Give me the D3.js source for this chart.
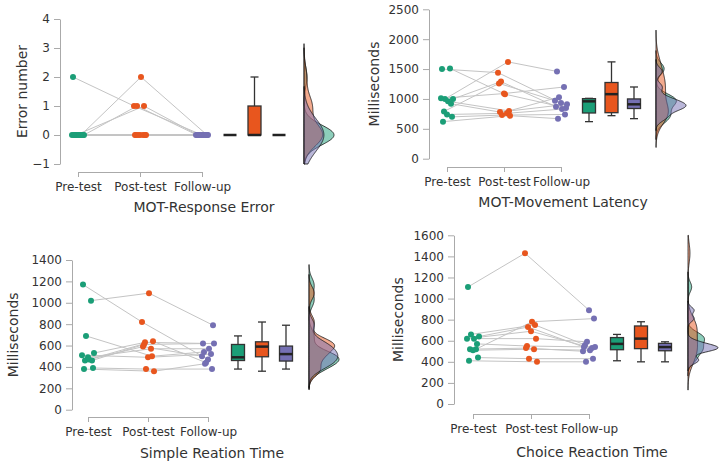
<!DOCTYPE html>
<html>
<head>
<meta charset="utf-8">
<script src="https://cdn.jsdelivr.net/npm/d3@7"></script>
<style>
body { margin: 0; background: #fff; }
text { font-family: "DejaVu Sans", sans-serif; fill: #333; }
</style>
</head>
<body>
<svg id="chart" width="722" height="468"></svg>
<script>
const categories = ["Pre-test", "Post-test", "Follow-up"];
const colors = ["#1b9e77", "#e8561e", "#7570b3"];

// one value per participant, same order in each array
const errorPre = [2, 0, 0, 0, 0, 0, 0, 0, 0, 0, 0];
const errorPost = [1, 2, 1, 1, 0, 0, 0, 0, 0, 0, 0];
const errorFollow = [0, 0, 0, 0, 0, 0, 0, 0, 0, 0, 0];
const errorTicks = [-1, 0, 1, 2, 3, 4];

const latencyPre = [1500, 1510, 1000, 1000, 1010, 960, 920, 790, 740, 700, 620];
const latencyPost = [1440, 1080, 1620, 1290, 1090, 800, 780, 1260, 760, 730, 720];
const latencyFollow = [930, 850, 1460, 870, 1200, 1030, 910, 970, 830, 740, 670];
const latencyTicks = [0, 500, 1000, 1500, 2000, 2500];

const simplePre = [1170, 1020, 690, 530, 510, 470, 460, 460, 490, 390, 380];
const simplePost = [820, 1090, 500, 630, 490, 640, 610, 590, 570, 380, 360];
const simpleFollow = [470, 790, 540, 620, 520, 440, 620, 500, 570, 380, 430];
const simpleTicks = [0, 200, 400, 600, 800, 1000, 1200, 1400];

const choicePre = [1110, 520, 660, 640, 620, 620, 570, 520, 510, 440, 410];
const choicePost = [1430, 780, 750, 730, 690, 620, 550, 530, 520, 430, 400];
const choiceFollow = [890, 810, 560, 540, 530, 590, 540, 500, 510, 430, 400];
const choiceTicks = [0, 200, 400, 600, 800, 1000, 1200, 1400, 1600];

const titles = ["MOT-Response Error", "MOT-Movement Latency", "Simple Reation Time", "Choice Reaction Time"];
const yTitles = ["Error number", "Milliseconds", "Milliseconds", "Milliseconds"];

// horizontal jitter of the dots, in pixels
const jitter = [-5, 3, -2, 6, -6, 1, 4, -3, 0, 5, -4];

const panels = [
    { series: [errorPre, errorPost, errorFollow], ticks: errorTicks, title: titles[0], yTitle: yTitles[0],
      ax: 60, cats: [78, 202], boxes: [230, 279], dens: 304, y: [164, 19], axisY: 172, titleY: 212, titleX: 204, yTitleX: 22 },
    { series: [latencyPre, latencyPost, latencyFollow], ticks: latencyTicks, title: titles[1], yTitle: yTitles[1],
      ax: 429, cats: [447, 561], boxes: [589, 634], dens: 656, y: [158.7, 9.3], axisY: 167, titleY: 207, titleX: 563, yTitleX: 374 },
    { series: [simplePre, simplePost, simpleFollow], ticks: simpleTicks, title: titles[2], yTitle: yTitles[2],
      ax: 72, cats: [88, 208], boxes: [238, 286], dens: 309, y: [409.7, 260], axisY: 417, titleY: 458, titleX: 212, yTitleX: 13 },
    { series: [choicePre, choicePost, choiceFollow], ticks: choiceTicks, title: titles[3], yTitle: yTitles[3],
      ax: 454, cats: [473, 589], boxes: [617, 665], dens: 688, y: [404, 235.3], axisY: 414, titleY: 457, titleX: 592, yTitleX: 398 }
];

const svg = d3.select("#chart");
panels.forEach(drawPanel);

function drawPanel(p) {
    const g = svg.append("g");
    const y = d3.scaleLinear()
        .domain(d3.extent(p.ticks))
        .range(p.y);
    const x = d3.scalePoint().domain(categories).range(p.cats);
    const xBox = d3.scalePoint().domain(categories).range(p.boxes);

    // axes
    const yAxis = g.append("g")
        .attr("transform", `translate(${p.ax},0)`)
        .call(d3.axisLeft(y).tickValues(p.ticks).tickSize(6).tickSizeOuter(0).tickPadding(4)
            .tickFormat(d => d < 0 ? "\u2212" + Math.abs(d) : d));
    const xAxis = g.append("g")
        .attr("transform", `translate(0,${p.axisY})`)
        .call(d3.axisBottom(x).tickSize(5).tickSizeOuter(0).tickPadding(5));
    [yAxis, xAxis].forEach(a => {
        a.selectAll("path, line").attr("stroke", "#aaa");
        a.selectAll("text").style("font-size", "12px").attr("fill", "#333");
    });

    g.append("text")
        .attr("transform", `translate(${p.yTitleX},${(p.y[0] + p.y[1]) / 2}) rotate(-90)`)
        .attr("text-anchor", "middle")
        .attr("dy", "0.35em")
        .style("font-size", "14px")
        .attr("fill", "#222")
        .text(p.yTitle);
    g.append("text")
        .attr("x", p.titleX)
        .attr("y", p.titleY)
        .attr("text-anchor", "middle")
        .style("font-size", "14px")
        .attr("fill", "#222")
        .text(p.title);

    // participant lines
    const n = p.series[0].length;
    const px = (t, i) => x(categories[t]) + jitter[(i + t * 4) % jitter.length];
    const line = d3.line().x(d => d[0]).y(d => d[1]);
    for (let i = 0; i < n; i++) {
        const pts = p.series.map((s, t) => [px(t, i), y(s[i])]);
        g.append("path")
            .attr("d", line(pts))
            .attr("fill", "none")
            .attr("stroke", "#c4c4c4")
            .attr("stroke-width", 1);
    }
    // dots
    p.series.forEach((s, t) => {
        g.append("g").selectAll("circle")
            .data(s)
            .enter()
            .append("circle")
            .attr("cx", (d, i) => px(t, i))
            .attr("cy", d => y(d))
            .attr("r", 3)
            .attr("fill", colors[t]);
    });

    // box plots
    p.series.forEach((s, t) => {
        const sorted = s.slice().sort(d3.ascending);
        const q1 = d3.quantile(sorted, 0.25);
        const med = d3.quantile(sorted, 0.5);
        const q3 = d3.quantile(sorted, 0.75);
        const iqr = q3 - q1;
        const lo = d3.min(sorted.filter(v => v >= q1 - 1.5 * iqr));
        const hi = d3.max(sorted.filter(v => v <= q3 + 1.5 * iqr));
        const cx = xBox(categories[t]);
        const bw = 13;
        const bg = g.append("g").attr("stroke", "#333").attr("stroke-width", 1.3);
        bg.append("line").attr("x1", cx).attr("x2", cx).attr("y1", y(hi)).attr("y2", y(q3));
        bg.append("line").attr("x1", cx).attr("x2", cx).attr("y1", y(q1)).attr("y2", y(lo));
        if (hi > q3) bg.append("line").attr("x1", cx - 4).attr("x2", cx + 4).attr("y1", y(hi)).attr("y2", y(hi));
        if (lo < q1) bg.append("line").attr("x1", cx - 4).attr("x2", cx + 4).attr("y1", y(lo)).attr("y2", y(lo));
        bg.append("rect")
            .attr("x", cx - bw / 2)
            .attr("y", y(q3))
            .attr("width", bw)
            .attr("height", y(q1) - y(q3))
            .attr("fill", colors[t]);
        bg.append("line")
            .attr("x1", cx - bw / 2).attr("x2", cx + bw / 2)
            .attr("y1", y(med)).attr("y2", y(med))
            .attr("stroke", "#222")
            .attr("stroke-width", 2.5);
    });

    // half violins
    const [dMin, dMax] = d3.extent(p.ticks);
    const dens = p.series.map(s => {
        const bw = bandwidth(s);
        const a = Math.max(dMin, d3.min(s) - 3 * bw);
        const b = Math.min(dMax, d3.max(s) + 3 * bw);
        const grid = d3.range(0, 201).map(k => a + (b - a) * k / 200);
        return grid.map(v => [v, d3.mean(s, d => gauss((v - d) / bw)) / bw]);
    });
    const maxD = d3.max(dens, d => d3.max(d, e => e[1]));
    const w = d3.scaleLinear().domain([0, maxD]).range([0, 30]);
    const area = d3.area()
        .y(d => y(d[0]))
        .x0(p.dens)
        .x1(d => p.dens + w(d[1]));
    dens.forEach((d, t) => {
        g.append("path")
            .attr("d", area(d))
            .attr("fill", colors[t])
            .attr("fill-opacity", 0.5)
            .attr("stroke", "#111")
            .attr("stroke-width", 0.8);
    });
}

function gauss(u) {
    return Math.exp(-0.5 * u * u) / Math.sqrt(2 * Math.PI);
}

// same rule as R's bw.nrd0
function bandwidth(s) {
    const sorted = s.slice().sort(d3.ascending);
    const sd = d3.deviation(sorted);
    const iqr = d3.quantile(sorted, 0.75) - d3.quantile(sorted, 0.25);
    let lo = Math.min(sd, iqr / 1.34);
    if (!(lo > 0)) lo = sd || Math.abs(sorted[0]) || 1;
    return 0.9 * lo * Math.pow(s.length, -0.2);
}
</script>
</body>
</html>
